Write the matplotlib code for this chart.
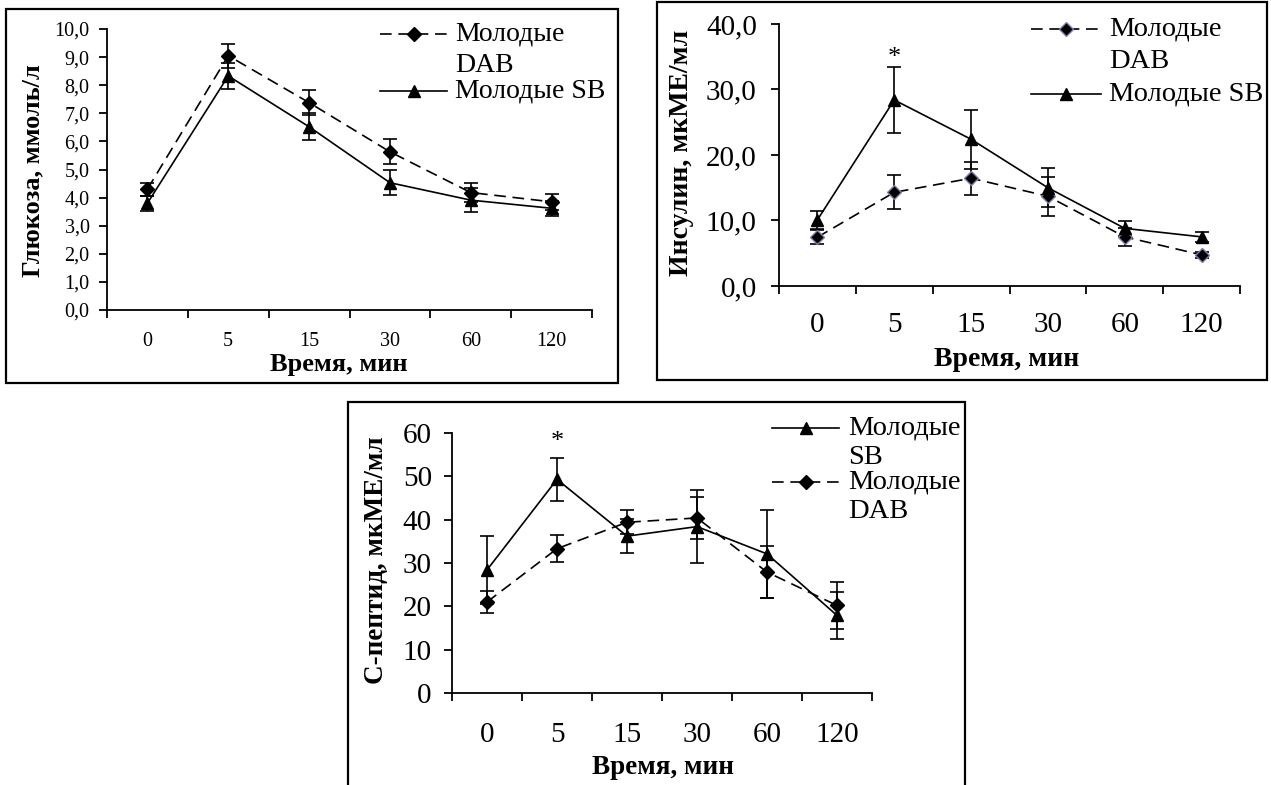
import matplotlib
matplotlib.use("Agg")
import matplotlib.pyplot as plt
from matplotlib.lines import Line2D
from matplotlib.patches import Rectangle

plt.rcParams['font.family'] = ['Liberation Serif', 'DejaVu Serif']

categories = ["0", "5", "15", "30", "60", "120"]

# Panel 1: glucose, mmol/l
glu_dab = [4.3, 9.05, 7.38, 5.63, 4.18, 3.85]
glu_dab_err = [0.23, 0.43, 0.45, 0.44, 0.35, 0.28]
glu_sb = [3.8, 8.33, 6.52, 4.53, 3.91, 3.62]
glu_sb_err = [0.27, 0.45, 0.48, 0.44, 0.42, 0.27]

# Panel 2: insulin, mkME/ml
ins_dab = [7.45, 14.3, 16.45, 13.7, 7.5, 4.75]
ins_dab_err = [1.05, 2.6, 2.5, 2.95, 1.4, 0.4]
ins_sb = [10.1, 28.4, 22.4, 15.0, 8.8, 7.5]
ins_sb_err = [1.4, 5.1, 4.5, 3.0, 1.1, 0.8]
ins_star = 34.8

# Panel 3: C-peptide, mkME/ml
cp_sb = [28.4, 49.3, 36.2, 38.4, 32.1, 17.9]
cp_sb_err = [7.9, 5.0, 3.9, 8.5, 10.1, 5.4]
cp_dab = [21.0, 33.3, 39.4, 40.4, 27.9, 20.2]
cp_dab_err = [2.6, 3.1, 2.8, 4.8, 6.0, 5.4]
cp_star = 57.9

W, H = 1271, 785
fig = plt.figure(figsize=(W / 100, H / 100), dpi=100)


def fx(x):
    return x / W


def fy(y):
    return 1 - y / H


def add_axes(l, r, t, b):
    ax = fig.add_axes([fx(l), fy(b), fx(r - l), (b - t) / H])
    ax._px = (l, r, t, b)
    return ax


def frame(l, t, r, b):
    fig.add_artist(Rectangle((fx(l), fy(b)), fx(r - l), (b - t) / H,
                             transform=fig.transFigure, fill=False,
                             edgecolor='black', linewidth=1.6))


def style_axes(ax, ylim, yticks, yfmt, tick_fs, ypad, xlab_y,
               xlab, ylab, lab_fs, xlab_pos, ylab_pos):
    n = len(categories)
    l, r, t, b = ax._px
    ax.set_xlim(-0.5, n - 0.5)
    ax.set_ylim(*ylim)
    for s in ['top', 'right']:
        ax.spines[s].set_visible(False)
    for s in ['left', 'bottom']:
        ax.spines[s].set_linewidth(1.3)
    ax.set_xticks([i - 0.5 for i in range(n + 1)])
    ax.set_xticklabels([])
    ax.tick_params(axis='x', direction='out', length=5.5, width=1.3)
    ya = (b - xlab_y) / (b - t)
    for i, c in enumerate(categories):
        ax.text(i, ya, c, transform=ax.get_xaxis_transform(), fontsize=tick_fs,
                ha='center', va='center')
    ax.set_yticks(yticks)
    ax.set_yticklabels([yfmt(v) for v in yticks])
    ax.tick_params(axis='y', direction='out', length=6, width=1.3,
                   labelsize=tick_fs, pad=ypad)
    fig.text(fx(xlab_pos[0]), fy(xlab_pos[1]), xlab, fontsize=lab_fs,
             fontweight='bold', ha='center', va='center')
    fig.text(fx(ylab_pos[0]), fy(ylab_pos[1]), ylab, fontsize=lab_fs,
             fontweight='bold', ha='center', va='center', rotation=90)
    ax.patch.set_alpha(0)


def series(ax, y, err, dashed, marker, ms, mec='black'):
    x = list(range(len(y)))
    ax.errorbar(x, y, yerr=err, fmt='none', ecolor='black', elinewidth=1.2,
                capsize=5, capthick=1.2, zorder=2)
    ls = (0, (7, 4)) if dashed else '-'
    ax.plot(x, y, color='black', linestyle=ls, linewidth=1.2, marker=marker,
            markersize=ms, markerfacecolor='black', markeredgecolor=mec, zorder=3)


def legend_entry(x0, x1, y, dashed, marker, ms, lines, fs, lh, mec='black', tx=None):
    ls = (0, (7, 4)) if dashed else '-'
    fig.add_artist(Line2D([fx(x0), fx(x1)], [fy(y), fy(y)], transform=fig.transFigure,
                          color='black', linestyle=ls, linewidth=1.2))
    fig.add_artist(Line2D([fx((x0 + x1) / 2)], [fy(y)], transform=fig.transFigure,
                          marker=marker, markersize=ms, markerfacecolor='black',
                          markeredgecolor=mec, linestyle='none'))
    tx = x1 + 8 if tx is None else tx
    for i, t in enumerate(lines):
        fig.text(fx(tx), fy(y + i * lh), t, fontsize=fs, va='center', ha='left')


comma1 = lambda v: f"{v:.1f}".replace('.', ',')
intfmt = lambda v: f"{v:.0f}"

# ---------- Panel 1 ----------
frame(6, 9, 618, 383)
ax1 = add_axes(107, 592, 29, 310)
series(ax1, glu_dab, glu_dab_err, True, 'D', 7)
series(ax1, glu_sb, glu_sb_err, False, '^', 8.5)
style_axes(ax1, (0, 10), [i * 1.0 for i in range(11)], comma1, 14.5, 6.5, 341,
           "Время, мин", "Глюкоза, ммоль/л", 19, (339, 364), (33, 171))
legend_entry(380, 447, 34, True, 'D', 7, ["Молодые", "DAB"], 20, 31)
legend_entry(380, 447, 91, False, '^', 8.5, ["Молодые SB"], 20, 31)

# ---------- Panel 2 ----------
frame(657, 2, 1267, 380)
ax2 = add_axes(779, 1240, 24, 286)
series(ax2, ins_dab, ins_dab_err, True, 'D', 7, mec='#7f7fb0')
series(ax2, ins_sb, ins_sb_err, False, '^', 9)
style_axes(ax2, (0, 40), [0, 10, 20, 30, 40], comma1, 21, 10, 325,
           "Время, мин", "Инсулин, мкМЕ/мл", 20, (1007, 360), (682, 153))
ax2.text(1, ins_star, "*", fontsize=19, ha='center', va='center')
legend_entry(1031, 1101, 29, True, 'D', 7, ["Молодые", "DAB"], 20.5, 33, mec='#7f7fb0', tx=1109)
legend_entry(1031, 1101, 94, False, '^', 9, ["Молодые SB"], 20.5, 33, tx=1109)

# ---------- Panel 3 ----------
frame(348, 402, 965, 800)
ax3 = add_axes(452, 872, 433, 693)
series(ax3, cp_sb, cp_sb_err, False, '^', 9)
series(ax3, cp_dab, cp_dab_err, True, 'D', 7)
style_axes(ax3, (0, 60), [0, 10, 20, 30, 40, 50, 60], intfmt, 21, 8.5, 735,
           "Время, мин", "С-пептид, мкМЕ/мл", 19.5, (663, 768), (377, 560))
ax3.text(1, cp_star, "*", fontsize=19, ha='center', va='center')
legend_entry(772, 839, 428, False, '^', 9, ["Молодые", "SB"], 20.5, 30, tx=848)
legend_entry(772, 839, 482, True, 'D', 7, ["Молодые", "DAB"], 20.5, 30, tx=848)

fig.savefig("out.png", dpi=100)
